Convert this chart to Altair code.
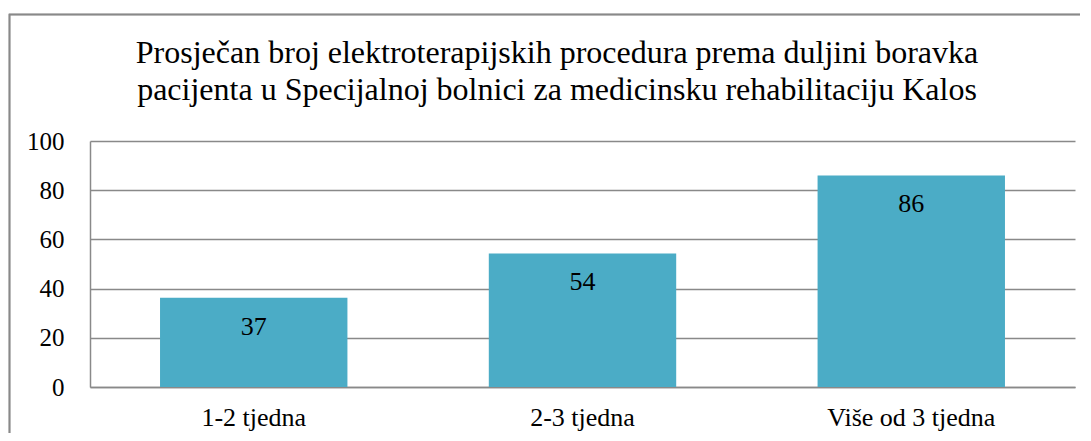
import altair as alt
import pandas as pd

categories = ["1-2 tjedna", "2-3 tjedna", "Više od 3 tjedna"]
values = [36.3, 54.3, 86.0]
labels = ["37", "54", "86"]
title_lines = ["Prosječan broj elektroterapijskih procedura prema duljini boravka",
               "pacijenta u Specijalnoj bolnici za medicinsku rehabilitaciju Kalos"]

df = pd.DataFrame({"cat": categories, "val": values, "lab": labels})

FONT = "Liberation Serif"
W, H = 985, 246

base = alt.Chart(df)

bars = base.mark_bar(color="#4BACC6").encode(
    x=alt.X("cat:N", sort=categories, title=None,
            scale=alt.Scale(paddingInner=0.43, paddingOuter=0.213),
            axis=alt.Axis(labelAngle=0, labelFont=FONT, labelFontSize=26, labelColor="black",
                          domainColor="#898989", domainWidth=1.5, ticks=False, labelPadding=17)),
    y=alt.Y("val:Q", title=None,
            scale=alt.Scale(domain=[0, 100]),
            axis=alt.Axis(values=[0, 20, 40, 60, 80, 100], labelFont=FONT, labelFontSize=25,
                          labelColor="black", domainColor="#898989", domainWidth=1.5,
                          gridColor="#898989", gridWidth=1.5, ticks=False, labelPadding=26)),
)

text = base.mark_text(font=FONT, fontSize=26, color="black", baseline="alphabetic", dy=37).encode(
    x=alt.X("cat:N", sort=categories),
    y=alt.Y("val:Q"),
    text="lab:N",
)

title_layers = []
for line, ypos in zip(title_lines, [-78, -41]):
    title_layers.append(
        alt.Chart(pd.DataFrame({"line": [line]})).mark_text(
            font=FONT, fontSize=32, color="black", baseline="alphabetic", align="center"
        ).encode(x=alt.value(467), y=alt.value(ypos), text="line:N")
    )

border = base.mark_rect(fill=None, stroke="#898989", strokeWidth=1.5).encode(
    x=alt.value(-80.5), x2=alt.value(1100), y=alt.value(-126.5), y2=alt.value(500)
)

chart = alt.layer(bars, text, *title_layers, border).properties(
    width=W, height=H,
    autosize=alt.AutoSizeParams(type="none"),
    padding={"left": 82, "top": 133, "right": 5, "bottom": 46},
).configure_view(stroke=None)

chart.save("out.html", embed_options={"renderer": "svg", "actions": False})
